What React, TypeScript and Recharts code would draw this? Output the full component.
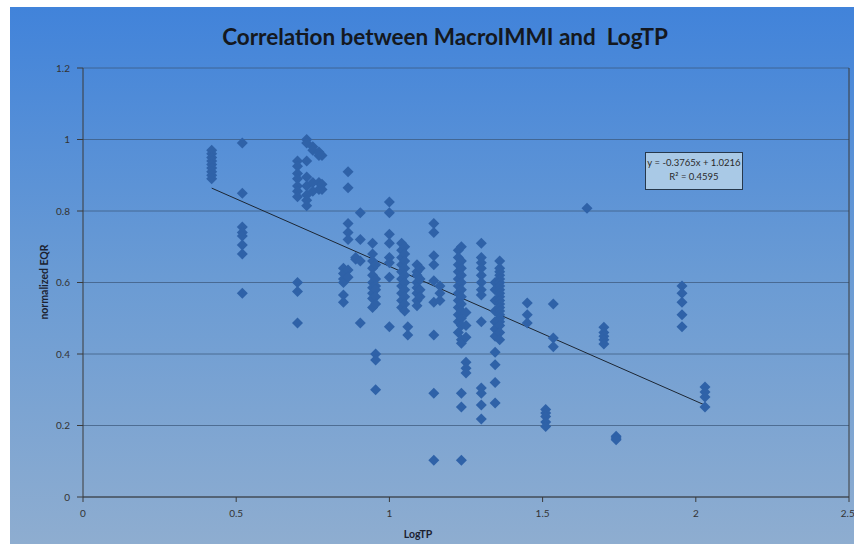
import { ScatterChart, Scatter, XAxis, YAxis, CartesianGrid, ReferenceLine } from 'recharts';

// axis ticks
const xTicks = [0, 0.5, 1, 1.5, 2, 2.5];
const yTicks = [0, 0.2, 0.4, 0.6, 0.8, 1, 1.2];

// LogTP value of each column of points
const logTP = [
    0.42, 0.52, 0.7, 0.73, 0.75, 0.77, 0.78, 0.85, 0.865, 0.89, 0.905, 0.945, 0.955, 1.0, 1.04, 1.05, 1.06,
    1.09, 1.1, 1.145, 1.165, 1.225, 1.235, 1.25, 1.3, 1.345, 1.36, 1.45, 1.51, 1.535, 1.645, 1.7, 1.74,
    1.955, 2.03
];

// normalized EQR values in each column, same order as logTP
const eqr = [
    [0.97, 0.96, 0.95, 0.94, 0.93, 0.92, 0.91, 0.9, 0.89],
    [0.99, 0.85, 0.755, 0.74, 0.73, 0.705, 0.68, 0.57],
    [0.94, 0.925, 0.905, 0.89, 0.87, 0.855, 0.84, 0.6, 0.575, 0.487],
    [1.0, 0.99, 0.94, 0.895, 0.87, 0.845, 0.83, 0.815],
    [0.98, 0.97, 0.88, 0.855],
    [0.965, 0.955, 0.88, 0.86],
    [0.955, 0.875, 0.86],
    [0.64, 0.625, 0.61, 0.6, 0.565, 0.545],
    [0.91, 0.865, 0.765, 0.74, 0.72, 0.635, 0.615],
    [0.67, 0.665],
    [0.795, 0.72, 0.66, 0.487],
    [0.71, 0.68, 0.66, 0.64, 0.62, 0.6, 0.585, 0.57, 0.555, 0.53],
    [0.65, 0.61, 0.59, 0.58, 0.56, 0.54, 0.4, 0.383, 0.3],
    [0.825, 0.795, 0.735, 0.71, 0.67, 0.655, 0.615, 0.476],
    [0.71, 0.69, 0.67, 0.65, 0.63, 0.61, 0.59, 0.57, 0.55, 0.53],
    [0.7, 0.68, 0.66, 0.64, 0.62, 0.6, 0.58, 0.56, 0.54, 0.52],
    [0.476, 0.453],
    [0.65, 0.63, 0.62, 0.6, 0.585, 0.57, 0.55, 0.535],
    [0.64, 0.61, 0.58, 0.56],
    [0.765, 0.74, 0.675, 0.65, 0.605, 0.545, 0.453, 0.29, 0.103],
    [0.59, 0.57, 0.55],
    [0.69, 0.67, 0.65, 0.63, 0.61, 0.59, 0.57, 0.55, 0.53, 0.51, 0.49, 0.46],
    [0.7, 0.66, 0.64, 0.62, 0.6, 0.58, 0.56, 0.54, 0.52, 0.5, 0.48, 0.44, 0.43, 0.29, 0.252, 0.103],
    [0.516, 0.48, 0.447, 0.377, 0.36, 0.347],
    [0.71, 0.67, 0.655, 0.64, 0.62, 0.6, 0.58, 0.565, 0.49, 0.305, 0.29, 0.257, 0.218],
    [0.6, 0.58, 0.55, 0.52, 0.49, 0.47, 0.45, 0.405, 0.37, 0.32, 0.263],
    [0.66, 0.64, 0.63, 0.62, 0.61, 0.6, 0.59, 0.58, 0.57, 0.56, 0.55, 0.54, 0.53, 0.52, 0.51, 0.5, 0.49, 0.48, 0.46, 0.44],
    [0.543, 0.51, 0.487],
    [0.245, 0.235, 0.225, 0.21, 0.197],
    [0.54, 0.445, 0.42],
    [0.808],
    [0.475, 0.46, 0.45, 0.44, 0.428],
    [0.17, 0.165, 0.16],
    [0.59, 0.57, 0.545, 0.51, 0.476],
    [0.308, 0.294, 0.28, 0.252]
];

// linear trendline drawn across the data range
const trendStart = { x: 0.42, y: 0.864 };
const trendEnd = { x: 2.03, y: 0.257 };

const points = logTP.flatMap((x, i) => eqr[i].map((y) => ({ x, y })));

const Diamond = (props: any) => {
    const { cx, cy } = props;
    return <path d={`M${cx},${cy - 5.5}L${cx + 5.5},${cy}L${cx},${cy + 5.5}L${cx - 5.5},${cy}Z`} fill="#2f62a8" />;
};

const W = 844;
const H = 537;

export default function App() {
    return (
        <div
            style={{
                position: 'absolute',
                left: 10,
                top: 7,
                width: W,
                height: H,
                background: 'linear-gradient(to bottom, #4183da 0%, #6a9bd4 50%, #8eadd0 100%)',
                fontFamily: 'Lato, sans-serif'
            }}
        >
            <div
                style={{
                    position: 'absolute',
                    left: 0,
                    width: 870,
                    top: 16,
                    textAlign: 'center',
                    fontSize: 22.5,
                    fontWeight: 700,
                    color: '#141820',
                    whiteSpace: 'pre'
                }}
            >
                Correlation between MacroIMMI and  LogTP
            </div>
            <ScatterChart width={W} height={H} margin={{ top: 61, right: 5, bottom: 17, left: 33 }}>
                <CartesianGrid horizontal vertical={false} stroke="#3b5677" strokeOpacity={0.7} />
                <XAxis
                    type="number"
                    dataKey="x"
                    domain={[0, 2.5]}
                    ticks={xTicks}
                    height={30}
                    tickSize={5}
                    tickMargin={8}
                    stroke="#3a3a3a"
                    tick={{ fill: '#333', fontSize: 10 }}
                />
                <YAxis
                    type="number"
                    dataKey="y"
                    domain={[0, 1.2]}
                    ticks={yTicks}
                    width={40}
                    tickSize={6}
                    tickMargin={7}
                    stroke="#3a3a3a"
                    tick={{ fill: '#333', fontSize: 10 }}
                />
                <ReferenceLine x={2.5} stroke="#3a3a3a" />
                <Scatter data={points} shape={Diamond} isAnimationActive={false} />
                <ReferenceLine segment={[trendStart, trendEnd]} stroke="#1c2633" strokeWidth={1} ifOverflow="visible" />
            </ScatterChart>
            <div
                style={{
                    position: 'absolute',
                    left: 34,
                    top: 275,
                    transform: 'translate(-50%, -50%) rotate(-90deg)',
                    fontSize: 10.5,
                    fontWeight: 700,
                    color: '#1c2230',
                    whiteSpace: 'nowrap'
                }}
            >
                normalized EQR
            </div>
            <div
                style={{
                    position: 'absolute',
                    left: 408,
                    top: 527,
                    transform: 'translate(-50%, -50%)',
                    fontSize: 10.5,
                    fontWeight: 700,
                    color: '#1c2230'
                }}
            >
                LogTP
            </div>
            <div
                style={{
                    position: 'absolute',
                    left: 635,
                    top: 145,
                    width: 98,
                    height: 38,
                    boxSizing: 'border-box',
                    border: '1.5px solid #26384c',
                    background: '#a9c9e6',
                    fontSize: 9.5,
                    lineHeight: '14px',
                    color: '#2a2a2a',
                    textAlign: 'center',
                    whiteSpace: 'nowrap',
                    paddingTop: 3
                }}
            >
                <div>y = -0.3765x + 1.0216</div>
                <div>R² = 0.4595</div>
            </div>
        </div>
    );
}
